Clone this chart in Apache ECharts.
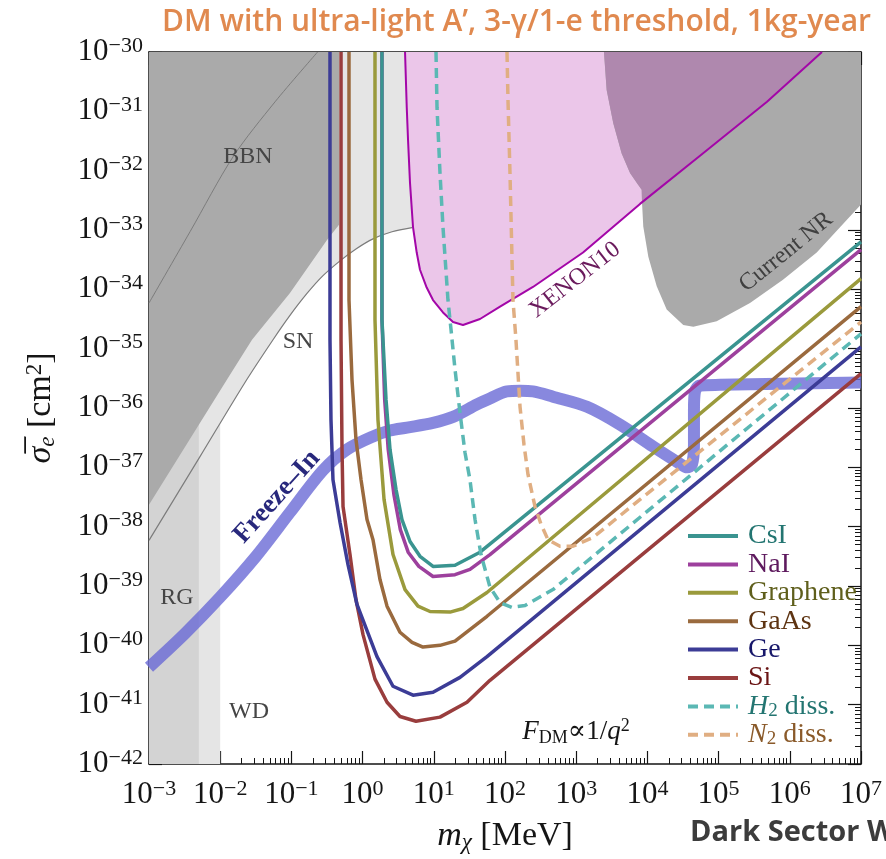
<!DOCTYPE html>
<html>
<head>
<meta charset="utf-8">
<title>DM with ultra-light A'</title>
<script src="https://cdn.jsdelivr.net/npm/echarts@6.0.0/dist/echarts.min.js"></script>
<style>
  html, body { margin: 0; padding: 0; background: #ffffff; }
  #chart { width: 886px; height: 859px; }
</style>
</head>
<body>
<div id="chart"></div>
<script>
// Axis decades: log10(m_chi / MeV) and log10(sigma_e / cm^2)
const massExponents = [-3, -2, -1, 0, 1, 2, 3, 4, 5, 6, 7];
const sigmaExponents = [-42, -41, -40, -39, -38, -37, -36, -35, -34, -33, -32, -31, -30];

// Every point below is [log10(m / MeV), log10(sigma / cm^2)]

// Astrophysical / cosmological bounds
const bbnBoundary = [[-0.331, -30], [-0.331, -32.91], [-0.50, -33.17], [-1.02, -34.06], [-1.553, -34.85], [-1.904, -35.52], [-3, -37.63]];
const bbnLine = [[-3, -34.23], [-2.424, -33.03], [-1.816, -31.76], [-1.23, -30.84], [-0.632, -30]];
const snLine = [[-3, -38.23], [-2.284, -36.82], [-1.652, -35.57], [-1.258, -34.85], [-1.02, -34.44], [-0.781, -34.07],
  [-0.556, -33.77], [-0.317, -33.52], [-0.093, -33.32], [0.146, -33.15], [0.413, -33.03], [0.694, -32.96]];
const rgBand = [[-3, -42], [-2.3, -42], [-2.3, -30], [-3, -30]];
const wdBand = [[-3, -42], [-2, -42], [-2, -30], [-3, -30]];

// Direct-detection bounds
const xenon10 = [[0.596, -30], [0.620, -30.93], [0.638, -31.48], [0.666, -32.21], [0.708, -32.95], [0.760, -33.38],
  [0.806, -33.67], [0.900, -33.97], [0.989, -34.18], [1.129, -34.39], [1.270, -34.55], [1.410, -34.60], [1.649, -34.50],
  [1.930, -34.29], [2.393, -33.96], [3.096, -33.38], [3.896, -32.56], [4.739, -31.75], [5.680, -30.84], [6.452, -30]];
const currentNR = [[3.390, -30], [3.428, -30.64], [3.521, -31.20], [3.639, -31.71], [3.756, -32.04], [3.872, -32.24],
  [3.920, -32.32], [3.925, -32.55], [3.942, -32.94], [4.013, -33.45], [4.131, -33.95], [4.271, -34.34], [4.504, -34.60],
  [4.645, -34.63], [4.973, -34.54], [5.441, -34.23], [5.904, -33.84], [6.378, -33.38], [7, -32.57], [7, -30]];
const nrXenonOverlap = [[3.390, -30], [3.428, -30.64], [3.521, -31.20], [3.639, -31.71], [3.756, -32.04], [3.872, -32.24],
  [3.920, -32.32], [3.925, -32.55], [4.739, -31.75], [5.680, -30.84], [6.452, -30]];

// Freeze-in target
const freezeIn = [[-3, -40.37], [-2.494, -39.80], [-2.003, -39.19], [-1.497, -38.50], [-1.020, -37.76], [-0.556, -37.05],
  [-0.219, -36.70], [0.146, -36.48], [0.385, -36.38], [0.624, -36.33], [0.989, -36.25], [1.270, -36.15], [1.607, -35.94],
  [1.789, -35.84], [2.028, -35.72], [2.211, -35.71], [2.393, -35.72], [2.674, -35.81], [3.152, -35.98], [3.615, -36.28],
  [4.079, -36.65], [4.458, -36.94], [4.556, -37.00], [4.626, -36.95], [4.654, -36.62], [4.654, -36.03], [4.669, -35.72],
  [4.739, -35.62], [5.020, -35.61], [7, -35.57]];

// Projected reach, 1 kg-year
const csI = [[0.272, -30], [0.272, -34.51], [0.329, -35.86], [0.385, -36.70], [0.469, -37.37], [0.553, -37.88], [0.666, -38.25],
  [0.806, -38.50], [0.989, -38.67], [1.298, -38.65], [1.649, -38.43], [7, -33.20]];
const naI = [[0.272, -30], [0.272, -34.51], [0.31, -35.86], [0.36, -36.70], [0.44, -37.46], [0.53, -38.05], [0.64, -38.43],
  [0.79, -38.67], [0.989, -38.84], [1.298, -38.81], [1.508, -38.72], [1.789, -38.47], [7, -33.33]];
const graphene = [[0.174, -30], [0.174, -34.51], [0.216, -36.20], [0.301, -37.54], [0.427, -38.47], [0.596, -39.06], [0.778, -39.34],
  [0.947, -39.43], [1.228, -39.44], [1.410, -39.38], [1.747, -39.11], [7, -33.82]];
const gaAs = [[-0.191, -30], [-0.191, -34.18], [-0.149, -35.52], [-0.093, -36.53], [-0.022, -37.21], [0.062, -37.88], [0.146, -38.22],
  [0.244, -38.89], [0.343, -39.34], [0.525, -39.78], [0.694, -39.95], [0.848, -40.03], [1.087, -40.00], [1.298, -39.93],
  [1.747, -39.51], [7, -34.29]];
const ge = [[-0.458, -30], [-0.458, -34.85], [-0.444, -36.20], [-0.416, -37.21], [-0.317, -37.93], [-0.205, -38.64], [-0.079, -39.31],
  [0.202, -40.19], [0.427, -40.69], [0.708, -40.84], [0.989, -40.79], [1.368, -40.54], [1.747, -40.19], [7, -34.97]];
const si = [[-0.303, -30], [-0.303, -34.85], [-0.289, -36.70], [-0.275, -37.66], [-0.177, -38.47], [-0.093, -39.23], [0.006, -39.82],
  [0.174, -40.57], [0.343, -40.96], [0.525, -41.20], [0.750, -41.28], [1.087, -41.21], [1.466, -40.96], [1.789, -40.59], [7, -35.42]];
const h2Diss = [[1.031, -30], [1.045, -30.93], [1.087, -32.04], [1.129, -32.95], [1.199, -34.18], [1.242, -34.68], [1.298, -35.35],
  [1.368, -36.08], [1.438, -36.75], [1.508, -37.21], [1.579, -37.88], [1.663, -38.47], [1.789, -39.02], [1.930, -39.28],
  [2.098, -39.36], [2.281, -39.33], [2.674, -39.06], [7, -34.75]];
const n2Diss = [[2.028, -30], [2.042, -30.81], [2.070, -32.04], [2.112, -34.18], [2.154, -34.85], [2.211, -35.98], [2.267, -36.62],
  [2.323, -37.12], [2.421, -37.66], [2.506, -37.96], [2.604, -38.22], [2.772, -38.33], [2.955, -38.33], [3.236, -38.18], [7, -34.55]];

const legendOrder = ['CsI', 'NaI', 'Graphene', 'GaAs', 'Ge', 'Si', 'H2 diss.', 'N2 diss.'];

// ---------------------------------------------------------------------------
const serif = '"Liberation Serif", "DejaVu Serif", serif';
const ink = '#151515';

// log-spaced minor ticks (2..9 inside each decade)
function minorTicks(exps) {
  const out = [];
  for (let i = 0; i < exps.length - 1; i++) {
    for (let k = 2; k <= 9; k++) out.push(exps[i] + Math.log10(k));
  }
  return out;
}
const massMinor = minorTicks(massExponents);
const sigmaMinor = minorTicks(sigmaExponents);

function powerLabel(v) {
  const e = Math.round(v);
  return '{b|10}{s|' + (e < 0 ? '\u2212' + (-e) : String(e)) + '}';
}
const powerRich = {
  b: { fontFamily: serif, fontSize: 31, lineHeight: 34, color: ink },
  s: { fontFamily: serif, fontSize: 22, lineHeight: 22, verticalAlign: 'top', color: ink }
};

// main axis + minor-tick twin, mirrored on the opposite side of the frame
function axisSet(exps, minor, mainPos, mirrorPos, mainExtra) {
  const base = { type: 'value', min: exps[0], max: exps[exps.length - 1], interval: 1, splitLine: { show: false } };
  const lineStyle = { color: ink, width: 1.5 };
  const majorTick = { show: true, inside: true, length: 13, lineStyle: { color: ink, width: 1.2 } };
  const minorTick = { show: true, inside: true, length: 6, customValues: minor, lineStyle: { color: ink, width: 1 } };
  return [
    Object.assign({}, base, { position: mainPos, axisLine: { show: true, onZero: false, lineStyle }, axisTick: majorTick }, mainExtra),
    Object.assign({}, base, { position: mainPos, axisLine: { show: false, onZero: false }, axisTick: minorTick, axisLabel: { show: false } }),
    Object.assign({}, base, { position: mirrorPos, axisLine: { show: true, onZero: false, lineStyle }, axisTick: majorTick, axisLabel: { show: false } }),
    Object.assign({}, base, { position: mirrorPos, axisLine: { show: false, onZero: false }, axisTick: minorTick, axisLabel: { show: false } })
  ];
}

const xAxes = axisSet(massExponents, massMinor, 'bottom', 'top', {
  axisLabel: { margin: 14, formatter: powerLabel, rich: powerRich },
  name: '{m|m}{c|\u03C7}{n| [MeV]}',
  nameLocation: 'middle',
  nameGap: 54,
  nameTextStyle: {
    rich: {
      m: { fontFamily: serif, fontStyle: 'italic', fontSize: 34, lineHeight: 36, color: ink },
      c: { fontFamily: serif, fontStyle: 'italic', fontSize: 23, lineHeight: 16, verticalAlign: 'bottom', color: ink },
      n: { fontFamily: serif, fontSize: 34, lineHeight: 36, color: ink }
    }
  }
});
const yAxes = axisSet(sigmaExponents, sigmaMinor, 'left', 'right', {
  axisLabel: { margin: 6, formatter: powerLabel, rich: powerRich },
  name: '{s|\u03C3\u0305}{e|e}{n| [cm}{u|2}{n|]}',
  nameLocation: 'middle',
  nameGap: 90,
  nameRotate: 90,
  nameTextStyle: {
    rich: {
      s: { fontFamily: serif, fontStyle: 'italic', fontSize: 34, lineHeight: 36, color: ink },
      e: { fontFamily: serif, fontStyle: 'italic', fontSize: 23, lineHeight: 16, verticalAlign: 'bottom', color: ink },
      n: { fontFamily: serif, fontSize: 34, lineHeight: 36, color: ink },
      u: { fontFamily: serif, fontSize: 23, lineHeight: 20, verticalAlign: 'top', color: ink }
    }
  }
});

// filled polygon drawn through the cartesian coordinate system
function region(name, points, fill) {
  return {
    type: 'custom', name, coordinateSystem: 'cartesian2d', xAxisIndex: 0, yAxisIndex: 0,
    silent: true, clip: true, data: points,
    renderItem(params, api) {
      if (params.dataIndex !== 0) return null;
      return { type: 'polygon', shape: { points: points.map(p => api.coord(p)) }, style: { fill: fill, stroke: null } };
    }
  };
}

function curve(name, points, color, width, dash, extra) {
  return Object.assign({
    type: 'line', name, data: points, xAxisIndex: 0, yAxisIndex: 0,
    symbol: 'none', showSymbol: false, silent: true, clip: true, smooth: false,
    lineStyle: { color, width, type: dash || 'solid', join: 'round', cap: 'butt' },
    itemStyle: { color },
    emphasis: { disabled: true }
  }, extra || {});
}

const dash = [10, 6];

const series = [
  region('SN', [[-3, -30]].concat(snLine, [[0.694, -30]]), '#e5e5e5'),
  region('WD', wdBand, '#e5e5e5'),
  region('RG', rgBand, '#d3d3d3'),
  region('BBN', [[-3, -30]].concat(bbnBoundary), '#aaaaaa'),
  curve('BBN line', bbnLine, '#7c7c7c', 1, null, { smooth: 0.3 }),
  curve('SN line', snLine, '#7c7c7c', 1.2, null, { smooth: 0.3 }),
  region('XENON10 region', xenon10, '#ebc6e9'),
  region('Current NR', currentNR, '#aaaaaa'),
  region('NR overlap', nrXenonOverlap, '#af88ae'),
  curve('XENON10', xenon10, '#a306a8', 2),
  curve('Freeze-In', freezeIn, '#6a6ad6', 12, null, { smooth: 0.3, lineStyle: { color: '#6a6ad6', width: 12, opacity: 0.8, join: 'round', cap: 'butt' } }),
  curve('Si', si, '#993d3d', 3.5),
  curve('Ge', ge, '#3c3c96', 3.5),
  curve('GaAs', gaAs, '#9a6a3e', 3.5),
  curve('Graphene', graphene, '#9a9a3c', 3.5),
  curve('NaI', naI, '#9d409d', 3.5),
  curve('CsI', csI, '#3a9490', 3.5),
  curve('N2 diss.', n2Diss, '#e0ae82', 3.5, dash),
  curve('H2 diss.', h2Diss, '#5bb8b4', 3.5, dash)
];

const legendTextColor = {
  'CsI': '#237571', 'NaI': '#5e1a5e', 'Graphene': '#5f5f1c', 'GaAs': '#5e3412',
  'Ge': '#17176a', 'Si': '#6a1414', 'H2 diss.': '#237571', 'N2 diss.': '#8a5a2a'
};

function label(text, x, y, font, fill, angle) {
  return {
    type: 'text', x, y, z: 100, silent: true, rotation: (angle || 0) * Math.PI / 180,
    style: { text, font, fill, align: 'center', verticalAlign: 'middle' }
  };
}

const option = {
  animation: false,
  backgroundColor: '#ffffff',
  title: {
    text: 'DM with ultra-light A\u2019, 3-\u03B3/1-e threshold, 1kg-year',
    right: 10, top: 2,
    textStyle: { fontFamily: '"Open Sans", "Noto Sans", sans-serif', fontWeight: 600, fontSize: 30, color: '#e0894f' }
  },
  grid: { left: 149, top: 52, width: 712, height: 713, containLabel: false },
  xAxis: xAxes,
  yAxis: yAxes,
  legend: {
    data: legendOrder.map(n => ({ name: n, textStyle: { color: legendTextColor[n] } })),
    orient: 'vertical',
    left: 686, top: 522, padding: 0,
    itemWidth: 50, itemHeight: 14, itemGap: 0.4,
    selectedMode: false,
    itemStyle: { opacity: 0 },
    lineStyle: { width: 4 },
    textStyle: {
      fontFamily: serif, fontSize: 28, lineHeight: 28, padding: [0, 0, 0, 5],
      rich: {
        it: { fontFamily: serif, fontStyle: 'italic', fontSize: 28, lineHeight: 28 },
        sub: { fontFamily: serif, fontSize: 19, lineHeight: 12, verticalAlign: 'bottom' },
        t: { fontFamily: serif, fontSize: 28, lineHeight: 28 }
      }
    },
    formatter: name => {
      if (name === 'H2 diss.') return '{it|H}{sub|2}{t| diss.}';
      if (name === 'N2 diss.') return '{it|N}{sub|2}{t| diss.}';
      return name;
    }
  },
  graphic: [
    label('BBN', 248, 157, '24px ' + serif, '#454545'),
    label('SN', 298, 342, '24px ' + serif, '#454545'),
    label('RG', 177, 598, '24px ' + serif, '#454545'),
    label('WD', 249, 712, '24px ' + serif, '#454545'),
    label('XENON10', 575, 280, '24px ' + serif, '#6a1a5c', 38),
    label('Current NR', 786, 252, '24px ' + serif, '#3f3f3f', 39),
    label('Freeze\u2013In', 277, 497, 'bold 27px ' + serif, '#28287c', 48),
    { type: 'text', x: 576, y: 732, z: 100, silent: true,
      style: {
        text: '{i|F}{d|DM}{n|\u221D1/}{i|q}{u|2}', align: 'center', verticalAlign: 'middle', fill: ink,
        rich: {
          i: { fontFamily: serif, fontStyle: 'italic', fontSize: 27, lineHeight: 30 },
          d: { fontFamily: serif, fontSize: 18, lineHeight: 14, verticalAlign: 'bottom' },
          n: { fontFamily: serif, fontSize: 27, lineHeight: 30 },
          u: { fontFamily: serif, fontSize: 18, lineHeight: 16, verticalAlign: 'top' }
        }
      } },
    { type: 'text', x: 690, y: 833, z: 100, silent: true,
      style: { text: 'Dark Sector Workshop', font: 'bold 29px "Open Sans", "Noto Sans", sans-serif', fill: '#3c3c3c', align: 'left', verticalAlign: 'middle' } }
  ],
  series
};

const chart = echarts.init(document.getElementById('chart'), null, { renderer: 'canvas' });
chart.setOption(option);
</script>
</body>
</html>
